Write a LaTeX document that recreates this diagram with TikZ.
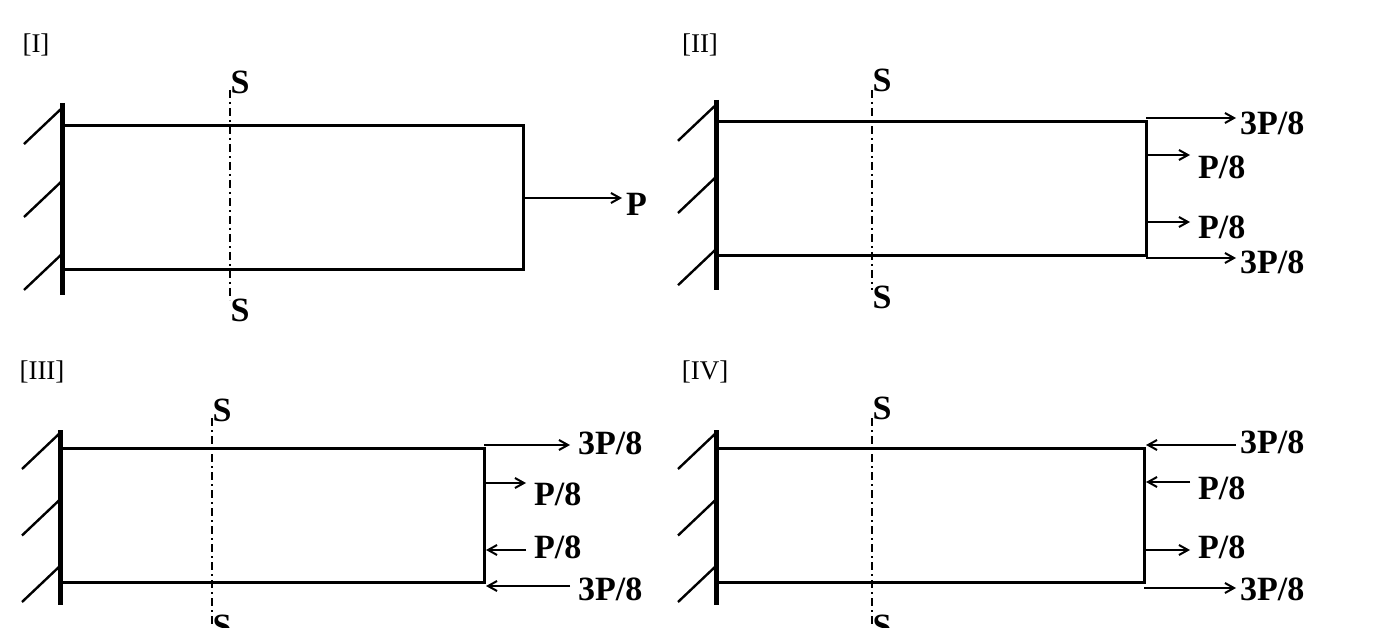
\documentclass[tikz,border=0pt]{standalone}
\usetikzlibrary{arrows.meta}
\usepackage{fontspec}
\setmainfont{Liberation Serif}
\begin{document}
\begin{tikzpicture}[x=1pt,y=-1pt,
  bar/.style={line width=3pt},
  wall/.style={line width=5pt},
  hatch/.style={line width=2.4pt},
  sec/.style={line width=1.5pt,dash pattern=on 8pt off 4pt on 2pt off 4pt},
  force/.style={line width=2pt,-{Straight Barb[length=9pt,width=10pt]}},
  lab/.style={font=\bfseries\fontsize{34}{34}\selectfont,inner sep=0pt},
  tag/.style={font=\fontsize{27}{27}\selectfont,inner sep=0pt}]
\useasboundingbox (0,0) rectangle (1378,628);
\fill[white] (0,0) rectangle (1378,628);
\newcommand{\mywall}[3]{% x, ytop, ybot
  \draw[wall] (#1,#2) -- (#1,#3);
  \foreach \yy in {0.12,0.5,0.88}{
    \draw[hatch] (#1,{#2+(#3-#2)*\yy-18}) -- ({#1-38},{#2+(#3-#2)*\yy+18});}
}
% Panel I
\node[tag] (t1) at (36,45) {[I]};
\mywall{62}{103}{295}
\draw[bar] (62,126) rectangle (523,270);
\coordinate (e1) at (523,198);
\coordinate (p1) at (622,198);
\draw[force] (e1) -- (p1);
\node[lab,anchor=west] (lp1) at (626,204) {P};
\draw[sec] (230,90) -- (230,300);
\node[lab] (s1a) at (240,82) {S};
\node[lab] (s1b) at (240,310) {S};
% Panel II
\node[tag] (t2) at (700,45) {[II]};
\mywall{716}{100}{290}
\draw[bar] (716,122) rectangle (1146,256);
\draw[sec] (872,90) -- (872,290);
\node[lab] (s2a) at (882,80) {S};
\node[lab] (s2b) at (882,297) {S};
\draw[force] (1146,118) -- (1236,118);
\node[lab,anchor=west] at (1240,123) {3P/8};
\draw[force] (1146,155) -- (1190,155);
\node[lab,anchor=west] at (1198,167) {P/8};
\draw[force] (1146,222) -- (1190,222);
\node[lab,anchor=west] at (1198,227) {P/8};
\draw[force] (1146,258) -- (1236,258);
\node[lab,anchor=west] at (1240,262) {3P/8};
% Panel III
\node[tag] (t3) at (42,372) {[III]};
\mywall{60}{430}{605}
\draw[bar] (60,448) rectangle (484,582);
\draw[sec] (212,418) -- (212,628);
\node[lab] (s3a) at (222,410) {S};
\node[lab] (s3b) at (222,626) {S};
\draw[force] (484,445) -- (570,445);
\node[lab,anchor=west] at (578,443) {3P/8};
\draw[force] (484,483) -- (526,483);
\node[lab,anchor=west] at (534,494) {P/8};
\draw[force] (526,550) -- (486,550);
\node[lab,anchor=west] at (534,547) {P/8};
\draw[force] (570,586) -- (486,586);
\node[lab,anchor=west] at (578,589) {3P/8};
% Panel IV
\node[tag] (t4) at (705,372) {[IV]};
\mywall{716}{430}{605}
\draw[bar] (716,448) rectangle (1144,582);
\draw[sec] (872,418) -- (872,628);
\node[lab] (s4a) at (882,408) {S};
\node[lab] (s4b) at (882,626) {S};
\draw[force] (1236,445) -- (1146,445);
\node[lab,anchor=west] at (1240,442) {3P/8};
\draw[force] (1190,482) -- (1146,482);
\node[lab,anchor=west] at (1198,488) {P/8};
\draw[force] (1144,550) -- (1190,550);
\node[lab,anchor=west] at (1198,547) {P/8};
\draw[force] (1144,588) -- (1236,588);
\node[lab,anchor=west] at (1240,589) {3P/8};
\end{tikzpicture}
\end{document}
